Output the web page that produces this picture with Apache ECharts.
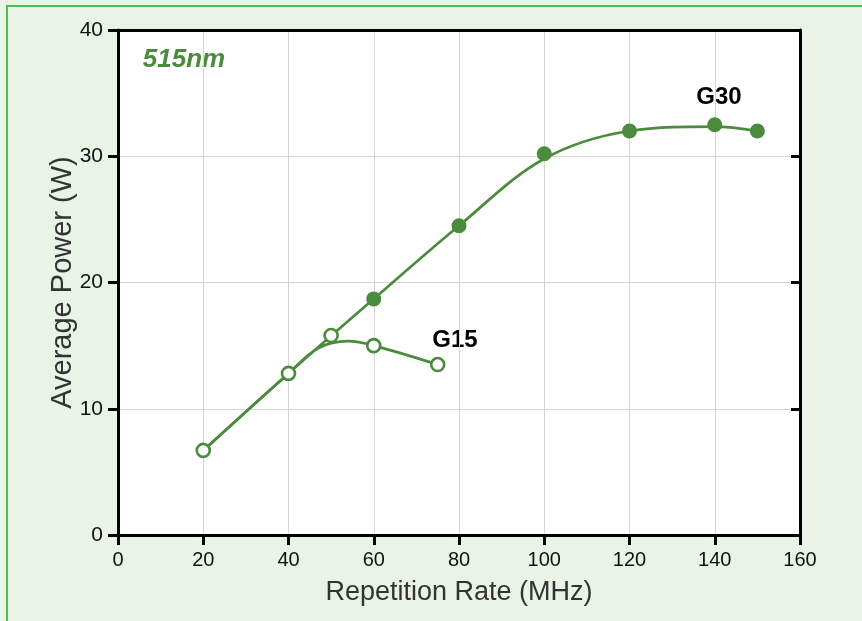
<!DOCTYPE html>
<html><head><meta charset="utf-8">
<script src="https://cdn.jsdelivr.net/npm/echarts@6/dist/echarts.min.js"></script>
<style>
html,body{margin:0;padding:0;background:#e9f3e6;}
#wrap{position:absolute;left:6px;top:5px;width:856px;height:616px;border-top:2.5px solid #4fbb55;border-left:2.5px solid #4fbb55;box-sizing:border-box;}
#c{position:absolute;left:0;top:0;width:862px;height:621px;}
</style></head>
<body>
<div id="wrap"></div>
<div id="c"></div>
<script>
// G15 measured points (open circles)
const g15X = [20, 40, 50, 60, 75];
const g15Y = [6.7, 12.8, 15.8, 15.0, 13.5];
// G30 measured points (filled circles)
const g30X = [60, 80, 100, 120, 140, 150];
const g30Y = [18.7, 24.5, 30.2, 32.0, 32.5, 32.0];
// fitted curves
const g15CurveX = [20, 40, 47, 54, 60, 75];
const g15CurveY = [6.7, 12.8, 14.8, 15.35, 15.0, 13.5];
const g30CurveX = [20, 40, 60, 80, 100, 120, 140, 150];
const g30CurveY = [6.7, 12.8, 18.7, 24.5, 29.8, 32.0, 32.35, 32.0];
const xTicks = [0, 20, 40, 60, 80, 100, 120, 140, 160];
const yTicks = [0, 10, 20, 30, 40];

const green = '#4b8b3e';
const zip = (xs, ys) => xs.map((x, i) => [x, ys[i]]);
const chart = echarts.init(document.getElementById('c'));
const font = 'Liberation Sans, Arial, sans-serif';
chart.setOption({
  animation: false,
  grid: {left: 118, right: 62, top: 30, bottom: 86, show: true, backgroundColor: '#fff', borderWidth: 0},
  xAxis: [{
    type: 'value', min: xTicks[0], max: xTicks[xTicks.length-1], interval: 20,
    name: 'Repetition Rate (MHz)', nameLocation: 'middle', nameGap: 44,
    nameTextStyle: {fontFamily: font, fontSize: 27, color: '#333'},
    axisLine: {show: true, onZero: false, lineStyle: {color: '#000', width: 3}},
    axisTick: {show: true, length: 10, lineStyle: {color: '#000', width: 3}},
    axisLabel: {fontFamily: font, fontSize: 20, color: '#111', margin: 15},
    splitLine: {show: true, lineStyle: {color: '#d6d6d6', width: 1}}
  }, {
    type: 'value', position: 'top', min: 0, max: 160, interval: 20,
    axisLine: {show: true, onZero: false, lineStyle: {color: '#000', width: 3}},
    axisTick: {show: false}, axisLabel: {show: false}, splitLine: {show: false}
  }],
  yAxis: [{
    type: 'value', min: yTicks[0], max: yTicks[yTicks.length-1], interval: 10,
    name: 'Average Power (W)', nameLocation: 'middle', nameGap: 41, nameMoveOverlap: false,
    nameTextStyle: {fontFamily: font, fontSize: 29, color: '#333'},
    axisLine: {show: true, onZero: false, lineStyle: {color: '#000', width: 3}},
    axisTick: {show: true, length: 10, lineStyle: {color: '#000', width: 3}},
    axisLabel: {fontFamily: font, fontSize: 21, color: '#111', margin: 15},
    splitLine: {show: true, lineStyle: {color: '#d6d6d6', width: 1}}
  }, {
    type: 'value', position: 'right', min: 0, max: 40, interval: 10,
    axisLine: {show: true, onZero: false, lineStyle: {color: '#000', width: 3}},
    axisTick: {show: true, inside: true, length: 9, lineStyle: {color: '#000', width: 3}},
    axisLabel: {show: false}, splitLine: {show: false}
  }],
  series: [
    {type: 'line', data: zip(g30CurveX, g30CurveY), smooth: 0.35, showSymbol: false, lineStyle: {color: green, width: 2.7}, z: 2},
    {type: 'line', data: zip(g15CurveX, g15CurveY), smooth: 0.35, showSymbol: false, lineStyle: {color: green, width: 2.7}, z: 2},
    {type: 'scatter', data: zip(g30X, g30Y), symbol: 'circle', symbolSize: 15, itemStyle: {color: green, opacity: 1}, z: 3},
    {type: 'scatter', data: zip(g15X, g15Y), symbol: 'circle', symbolSize: 13, itemStyle: {color: '#fff', borderColor: green, borderWidth: 2.6, opacity: 1}, z: 3},
    {type: 'scatter', xAxisIndex: 1, yAxisIndex: 1, data: zip(g30X, g30Y), symbolSize: 0, silent: true, itemStyle: {opacity: 0}}
  ],
  graphic: [
    {type: 'text', x: 184, y: 60, style: {text: '515nm', fontFamily: font, fontSize: 26, fontWeight: 'bold', fontStyle: 'italic', fill: green, align: 'center', verticalAlign: 'middle'}},
    {type: 'text', x: 719, y: 97, style: {text: 'G30', fontFamily: font, fontSize: 24, fontWeight: 'bold', fill: '#000', align: 'center', verticalAlign: 'middle'}},
    {type: 'text', x: 455, y: 340, style: {text: 'G15', fontFamily: font, fontSize: 24, fontWeight: 'bold', fill: '#000', align: 'center', verticalAlign: 'middle'}}
  ]
});
</script>
</body></html>
